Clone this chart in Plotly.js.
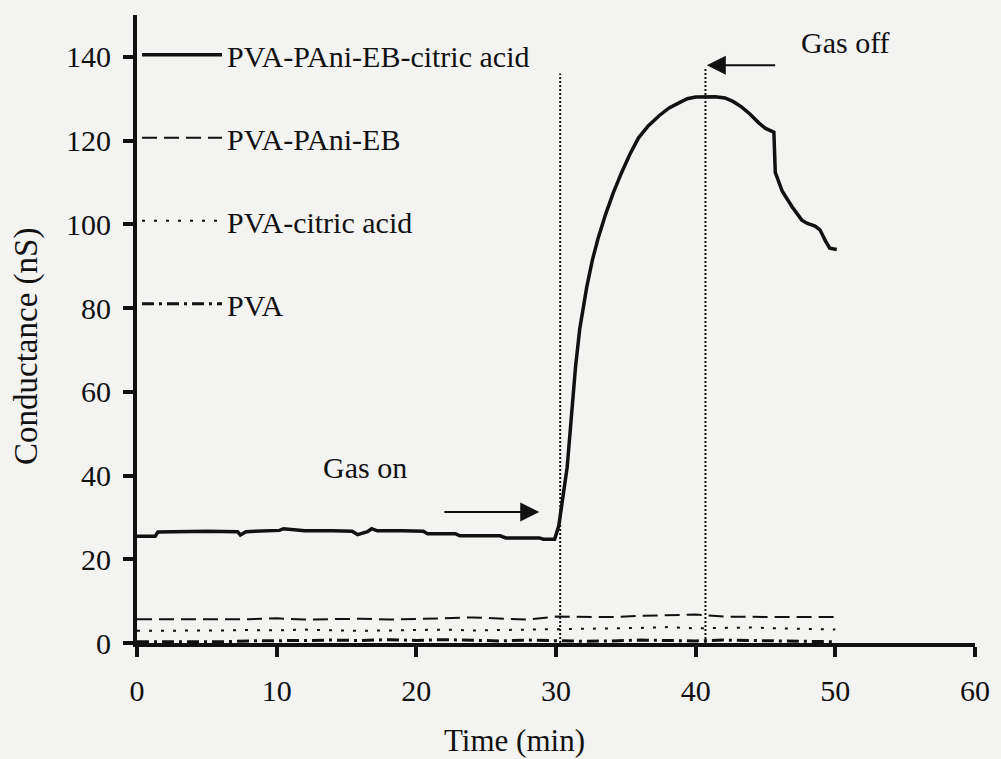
<!DOCTYPE html>
<html>
<head>
<meta charset="utf-8">
<script src="https://cdn.plot.ly/plotly-3.0.1.min.js"></script>
<style>html,body{margin:0;padding:0;background:#f3f3f1;}#chart{width:1001px;height:759px;}</style>
</head>
<body>
<div id="chart"></div>
<script>
// ---- data ----
const seriesNames = ["PVA-PAni-EB-citric acid", "PVA-PAni-EB", "PVA-citric acid", "PVA"];
const xTitle = "Time (min)";
const yTitle = "Conductance (nS)";

const mainTime = [0, 1.3, 1.5, 3, 5, 7.2, 7.4, 7.8, 9, 10.2, 10.5, 12, 14, 15.4, 15.8, 16.5, 16.8, 17.2, 19, 20.5, 20.8, 22.8, 23.1, 26, 26.4, 28.8, 29.1, 29.9,
  30.2, 30.5, 30.8, 31.05, 31.4, 31.7, 31.9, 32.2, 32.6, 33.0, 33.55, 34.1, 34.7, 35.3, 35.9, 36.6, 37.4, 38.1, 38.8, 39.4, 40, 40.7, 41.4, 42.1, 42.7, 43.3, 43.9, 44.5, 45, 45.6,
  45.7, 46.2, 46.9, 47.6, 48.0, 48.55, 48.9, 49.3, 49.6, 50.1];
const mainValues = [25.5, 25.5, 26.5, 26.6, 26.7, 26.6, 25.8, 26.6, 26.8, 26.9, 27.3, 26.8, 26.8, 26.7, 25.9, 26.6, 27.3, 26.8, 26.8, 26.7, 26.1, 26.1, 25.6, 25.6, 25.1, 25.1, 24.8, 24.8,
  28, 35, 42, 52, 66, 75, 79.5, 85, 91.4, 96.5, 102.4, 107.5, 112.4, 116.8, 120.6, 123.5, 126, 127.8, 129, 130, 130.4, 130.5, 130.5, 130.2, 129.3, 128, 126.3, 124.3, 122.9, 122,
  112.4, 107.9, 104.2, 101, 100.2, 99.6, 98.7, 96, 94.3, 94];

const baseTime = [0, 2, 4, 6, 8, 10, 12, 14, 16, 18, 20, 22, 24, 26, 28, 30, 32, 34, 36, 38, 40, 42, 44, 46, 48, 50];
const paniValues = [5.7, 5.7, 5.7, 5.8, 5.7, 5.9, 5.6, 5.7, 5.8, 5.6, 5.7, 5.9, 6.1, 5.8, 5.6, 6.3, 6.3, 6.2, 6.5, 6.6, 6.8, 6.3, 6.2, 6.2, 6.2, 6.2];
const citricValues = [2.9, 2.9, 2.9, 3.0, 3.1, 3.0, 3.2, 3.0, 2.9, 3.0, 3.1, 3.2, 3.0, 3.1, 3.2, 3.2, 3.3, 3.4, 3.6, 3.8, 3.5, 3.6, 3.7, 3.5, 3.4, 3.2];
const pvaValues = [0.3, 0.3, 0.4, 0.3, 0.5, 0.5, 0.6, 0.7, 0.6, 0.8, 0.6, 0.8, 0.7, 0.5, 0.7, 0.6, 0.4, 0.5, 0.7, 0.6, 0.5, 0.7, 0.6, 0.5, 0.4, 0.3];

const gasOnTime = 30.3, gasOnTop = 136;
const gasOffTime = 40.7, gasOffTop = 137.5;

const xTicks = [0, 10, 20, 30, 40, 50, 60];
const yTicks = [0, 20, 40, 60, 80, 100, 120, 140];

// ---- chart ----
const FONT = "Liberation Serif";
const traces = [
  {x: mainTime, y: mainValues, name: seriesNames[0], legendgroup: "a", mode: "lines", line: {color: "#111", width: 3.5}},
  {x: baseTime, y: paniValues, name: seriesNames[1], legendgroup: "b", mode: "lines", line: {color: "#111", width: 2, dash: "15px,7px"}},
  {x: baseTime, y: citricValues, name: seriesNames[2], legendgroup: "c", mode: "lines", line: {color: "#111", width: 2, dash: "3px,9px"}},
  {x: baseTime, y: pvaValues, name: seriesNames[3], legendgroup: "d", mode: "lines", line: {color: "#111", width: 3, dash: "12px,5px,3px,5px"}},
  {x: [gasOnTime, gasOnTime], y: [0, gasOnTop], mode: "lines", showlegend: false, line: {color: "#111", width: 2, dash: "2px,2px"}},
  {x: [gasOffTime, gasOffTime], y: [0, gasOffTop], mode: "lines", showlegend: false, line: {color: "#111", width: 2, dash: "2px,2px"}}
];

const layout = {
  width: 1001, height: 759,
  paper_bgcolor: "#f3f3f1", plot_bgcolor: "#f3f3f1",
  margin: {l: 137, r: 26, t: 15, b: 116},
  font: {family: FONT, size: 30, color: "#111"},
  showlegend: true,
  legend: {x: 0.0, xanchor: "left", y: 0.978, yanchor: "top", bgcolor: "rgba(0,0,0,0)",
           font: {family: FONT, size: 30, color: "#111"}, tracegroupgap: 41, itemwidth: 80},
  xaxis: {range: [0, 60], tickvals: xTicks, ticks: "outside", ticklen: 10, tickwidth: 4, tickcolor: "#111",
          showline: true, linewidth: 4, linecolor: "#111", showgrid: false, zeroline: false, ticklabelstandoff: 8,
          tickfont: {family: FONT, size: 30}},
  yaxis: {range: [0, 150], tickvals: yTicks, ticks: "outside", ticklen: 10, tickwidth: 4, tickcolor: "#111",
          showline: true, linewidth: 4, linecolor: "#111", showgrid: false, zeroline: false, ticklabelstandoff: 6,
          tickfont: {family: FONT, size: 30}},
  annotations: [
    {xref: "paper", yref: "paper", x: 0.45, y: -0.156, xanchor: "center", yanchor: "middle", text: xTitle, showarrow: false, font: {family: FONT, size: 31}},
    {xref: "paper", yref: "paper", x: -0.132, y: 0.472, xanchor: "center", yanchor: "middle", textangle: -90, text: yTitle, showarrow: false, font: {family: FONT, size: 33}},
    {x: 16.3, y: 42, text: "Gas on", showarrow: false, font: {family: FONT, size: 30}},
    {x: 28.8, y: 31.3, ax: 21.9, ay: 31.3, axref: "x", ayref: "y", text: "", showarrow: true, arrowhead: 2, arrowsize: 1.9, arrowwidth: 2, arrowcolor: "#111"},
    {x: 50.7, y: 143.5, text: "Gas off", showarrow: false, font: {family: FONT, size: 30}},
    {x: 40.8, y: 138, ax: 45.8, ay: 138, axref: "x", ayref: "y", text: "", showarrow: true, arrowhead: 2, arrowsize: 1.9, arrowwidth: 2, arrowcolor: "#111"}
  ]
};

Plotly.newPlot("chart", traces, layout, {displayModeBar: false, staticPlot: true});
</script>
</body>
</html>
